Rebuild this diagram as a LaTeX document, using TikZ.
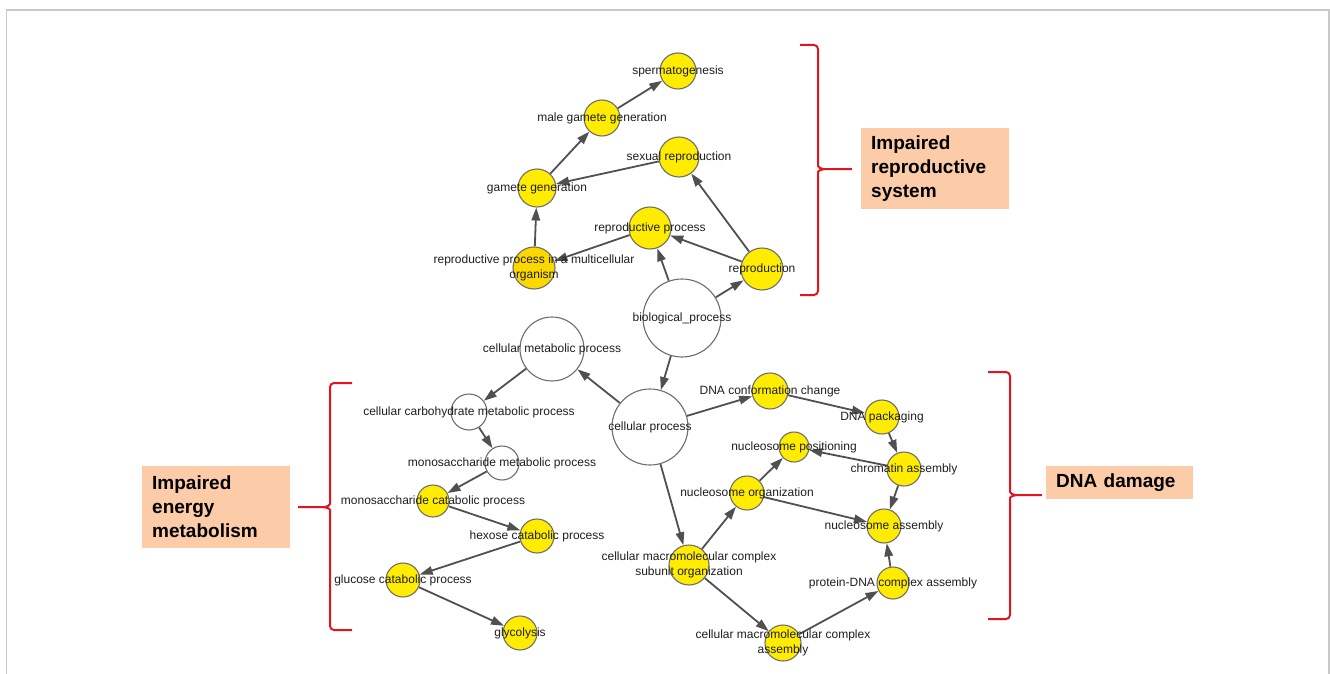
\documentclass[tikz,border=0pt]{standalone}
\usepackage{fontspec}
\setmainfont{Liberation Sans}
\usetikzlibrary{arrows.meta, backgrounds}

\definecolor{goyellow}{RGB}{255,236,0}
\definecolor{godark}{RGB}{252,216,0}
\definecolor{nodegray}{RGB}{110,110,110}
\definecolor{edgegray}{RGB}{80,80,80}
\definecolor{textgray}{RGB}{30,30,30}
\definecolor{bracered}{RGB}{226,20,30}
\definecolor{peach}{RGB}{252,203,168}
\definecolor{framegray}{RGB}{200,200,200}

\begin{document}
\begin{tikzpicture}[
  x=1pt, y=-1pt,
  >={Triangle[length=13pt,width=8.5pt]},
  gonode/.style={draw=nodegray, circle, fill=goyellow, line width=1.1pt, minimum size=36pt, inner sep=0pt},
  gowhite/.style={gonode, fill=white},
  lbl/.style={font=\fontsize{12}{15}\selectfont, text=textgray, align=center, inner sep=0pt},
  flow/.style={->, line width=1.8pt, edgegray},
  brace/.style={draw=bracered, line width=2pt, rounded corners=4pt},
  tagbox/.style={fill=peach, font=\fontsize{19}{24}\selectfont\bfseries, text=black, align=left, anchor=north west, inner xsep=10pt, inner ysep=0pt}
]
\useasboundingbox (0,0) rectangle (1330,674);
\draw[framegray, line width=1.5pt] (6.5,674) -- (6.5,10) -- (1329,10) -- (1329,674);

% Reproduction branch
\node[gonode, label={[lbl]center:spermatogenesis}]        (sperm)    at (678,71)  {};
\node[gonode, label={[lbl]center:male gamete generation}] (malegam)  at (602,118) {};
\node[gonode, minimum size=40pt, label={[lbl]center:sexual reproduction}] (sexrep) at (679,157) {};
\node[gonode, minimum size=38pt, label={[lbl]center:gamete generation}]   (gamgen) at (537,188) {};
\node[gonode, minimum size=42pt, label={[lbl]center:reproductive process}] (repproc) at (650,228) {};
\node[gonode, minimum size=42pt, fill=godark,
      label={[lbl]center:reproductive process in a multicellular\\organism}] (repmulti) at (534,268) {};
\node[gonode, minimum size=42pt, label={[lbl]center:reproduction}] (repro) at (762,269) {};

% Root and general processes
\node[gowhite, minimum size=78pt, label={[lbl]center:biological\_process}]         (bioproc) at (682,318) {};
\node[gowhite, minimum size=64pt, label={[lbl]center:cellular metabolic process}]  (cellmet) at (552,349) {};
\node[gowhite, minimum size=76pt, label={[lbl]center:cellular process}]            (cellproc) at (650,427) {};

% Energy metabolism branch
\node[gowhite, label={[lbl]center:cellular carbohydrate metabolic process}] (carbmet) at (469,412) {};
\node[gowhite, minimum size=34pt, label={[lbl]center:monosaccharide metabolic process}] (monomet) at (502,463) {};
\node[gonode, minimum size=32pt, label={[lbl]center:monosaccharide catabolic process}]  (monocat) at (433,501) {};
\node[gonode, minimum size=34pt, label={[lbl]center:hexose catabolic process}]  (hexcat) at (537,536) {};
\node[gonode, minimum size=34pt, label={[lbl]center:glucose catabolic process}] (glucat) at (403,580) {};
\node[gonode, minimum size=34pt, label={[lbl]center:glycolysis}]                (glyco)  at (520,633) {};

% DNA branch
\node[gonode, label={[lbl]center:DNA conformation change}]                 (dnaconf) at (770,391) {};
\node[gonode, minimum size=34pt, label={[lbl]center:DNA packaging}]        (dnapack) at (882,417) {};
\node[gonode, minimum size=30pt, label={[lbl]center:nucleosome positioning}] (nucpos) at (794,447) {};
\node[gonode, minimum size=34pt, label={[lbl]center:chromatin assembly}]   (chrom)   at (904,469) {};
\node[gonode, minimum size=34pt, label={[lbl]center:nucleosome organization}] (nucorg) at (747,493) {};
\node[gonode, minimum size=34pt, label={[lbl]center:nucleosome assembly}]  (nucass)  at (884,526) {};
\node[gonode, minimum size=40pt,
      label={[lbl]center:cellular macromolecular complex\\subunit organization}] (cmcso) at (689,565) {};
\node[gonode, minimum size=32pt, label={[lbl]center:protein-DNA complex assembly}] (pdna) at (893,583) {};
\node[gonode, label={[lbl]center:cellular macromolecular complex\\assembly}] (cmca) at (783,643) {};

% Edges
\begin{scope}[on background layer]
\draw[flow] (malegam) -- (sperm);
\draw[flow] (gamgen) -- (malegam);
\draw[flow] (sexrep) -- (gamgen);
\draw[flow] (repmulti) -- (gamgen);
\draw[flow] (repproc) -- (repmulti);
\draw[flow] (repro) -- (repproc);
\draw[flow] (repro) -- (sexrep);
\draw[flow] (bioproc) -- (repproc);
\draw[flow] (bioproc) -- (repro);
\draw[flow] (bioproc) -- (cellproc);
\draw[flow] (cellproc) -- (cellmet);
\draw[flow] (cellmet) -- (carbmet);
\draw[flow] (carbmet) -- (monomet);
\draw[flow] (monomet) -- (monocat);
\draw[flow] (monocat) -- (hexcat);
\draw[flow] (hexcat) -- (glucat);
\draw[flow] (glucat) -- (glyco);
\draw[flow] (cellproc) -- (dnaconf);
\draw[flow] (dnaconf) -- (dnapack);
\draw[flow] (dnapack) -- (chrom);
\draw[flow] (chrom) -- (nucpos);
\draw[flow] (chrom) -- (nucass);
\draw[flow] (nucorg) -- (nucpos);
\draw[flow] (nucorg) -- (nucass);
\draw[flow] (cellproc) -- (cmcso);
\draw[flow] (cmcso) -- (nucorg);
\draw[flow] (cmcso) -- (cmca);
\draw[flow] (cmca) -- (pdna);
\draw[flow] (pdna) -- (nucass);
\end{scope}

% Braces
\draw[brace] (800,45) -- (818,45) -- (818,162)
  .. controls (818,167) and (821,169) .. (827,169) -- (852,169)
  (827,169) .. controls (821,169) and (818,171) .. (818,176) -- (818,295) -- (800,295);
\draw[brace] (352,383) -- (330,383) -- (330,500)
  .. controls (330,505) and (327,507) .. (321,507) -- (298,507)
  (321,507) .. controls (327,507) and (330,509) .. (330,514) -- (330,630) -- (352,630);
\draw[brace] (988,372) -- (1010,372) -- (1010,488)
  .. controls (1010,493) and (1013,495) .. (1019,495) -- (1042,495)
  (1019,495) .. controls (1013,495) and (1010,497) .. (1010,502) -- (1010,619) -- (988,619);

% Tags
\node[tagbox, text width=128pt, minimum height=81pt] (reptag) at (861,128) {Impaired\\reproductive\\system};
\node[tagbox, text width=128pt, minimum height=82pt] (engtag) at (142,466) {Impaired\\energy\\metabolism};
\node[tagbox, text width=127pt, minimum height=33pt] (dnatag) at (1046,466) {DNA damage};
\end{tikzpicture}
\end{document}
